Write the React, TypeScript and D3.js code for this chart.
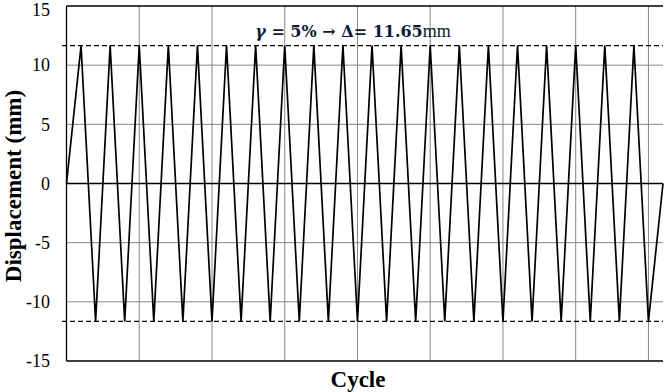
import React from "react";
import * as d3 from "d3";

const amplitude = 11.65;
// Displacement at each load step (0 → +Δ → −Δ ... → 0)
const displacement: number[] = [
  0, 11.65, -11.65, 11.65, -11.65, 11.65, -11.65, 11.65, -11.65, 11.65, -11.65,
  11.65, -11.65, 11.65, -11.65, 11.65, -11.65, 11.65, -11.65, 11.65, -11.65,
  11.65, -11.65, 11.65, -11.65, 11.65, -11.65, 11.65, -11.65, 11.65, -11.65,
  11.65, -11.65, 11.65, -11.65, 11.65, -11.65, 11.65, -11.65, 11.65, -11.65, 0,
];
const yTicks = [-15, -10, -5, 0, 5, 10, 15];
const xGrid = [5, 10, 15, 20, 25, 30, 35, 40];

const W = 664, H = 392;
const L = 66.5, R = 663, T = 6, B = 361;

export default function App() {
  const x = d3.scaleLinear().domain([0, displacement.length - 1]).range([L, R]);
  const y = d3.scaleLinear().domain([-15, 15]).range([B, T]);
  const line = d3.line<number>().x((_, i) => x(i)).y((d) => y(d));
  const serif = "Liberation Serif, Times New Roman, Times, serif";
  return (
    <svg width={W} height={H} style={{ position: "absolute", left: 0, top: 0, background: "#fff" }}>
      <rect x={0} y={0} width={W} height={H} fill="#fff" />
      {yTicks.filter((t) => t !== 0 && t !== 15 && t !== -15).map((t) => (
        <line key={"h" + t} x1={L} x2={R} y1={y(t)} y2={y(t)} stroke="#868686" strokeWidth={1} />
      ))}
      {xGrid.map((g) => (
        <line key={"v" + g} x1={x(g)} x2={x(g)} y1={T} y2={B} stroke="#868686" strokeWidth={1} />
      ))}
      <line x1={L} x2={R} y1={T} y2={T} stroke="#000" strokeWidth={1.3} />
      <line x1={L} x2={R} y1={B} y2={B} stroke="#000" strokeWidth={1.3} />
      <line x1={L} x2={L} y1={T} y2={B} stroke="#000" strokeWidth={1.3} />
      <line x1={L} x2={R} y1={y(0)} y2={y(0)} stroke="#000" strokeWidth={1.3} />
      <line x1={62} x2={R} y1={y(amplitude)} y2={y(amplitude)} stroke="#000" strokeWidth={1.2} strokeDasharray="5,3" />
      <line x1={62} x2={R} y1={y(-amplitude)} y2={y(-amplitude)} stroke="#000" strokeWidth={1.2} strokeDasharray="5,3" />
      <path d={line(displacement) || ""} fill="none" stroke="#000" strokeWidth={1.7} strokeLinejoin="miter" />
      {yTicks.map((t) => (
        <text key={"t" + t} x={50} y={Math.max(y(t), 10)} dy="0.35em" textAnchor="end" fontFamily={serif} fontSize={18} fill="#000">
          {t}
        </text>
      ))}
      <text x={0} y={0} transform={`translate(21,186) rotate(-90)`} textAnchor="middle" fontFamily={serif} fontWeight="bold" fontSize={23} fill="#000">
        Displacement (mm)
      </text>
      <text x={358} y={387} textAnchor="middle" fontFamily={serif} fontWeight="bold" fontSize={23} fill="#000">
        Cycle
      </text>
      <text x={353} y={37} textAnchor="middle" fontFamily="DejaVu Serif, serif" fontSize={16} fill="#0b1a33">
        <tspan fontStyle="italic" fontWeight="bold">γ</tspan>
        <tspan fontWeight="bold"> = 5% → Δ= 11.65</tspan>
        <tspan fontFamily={serif} fontSize={18}>mm</tspan>
      </text>
    </svg>
  );
}
